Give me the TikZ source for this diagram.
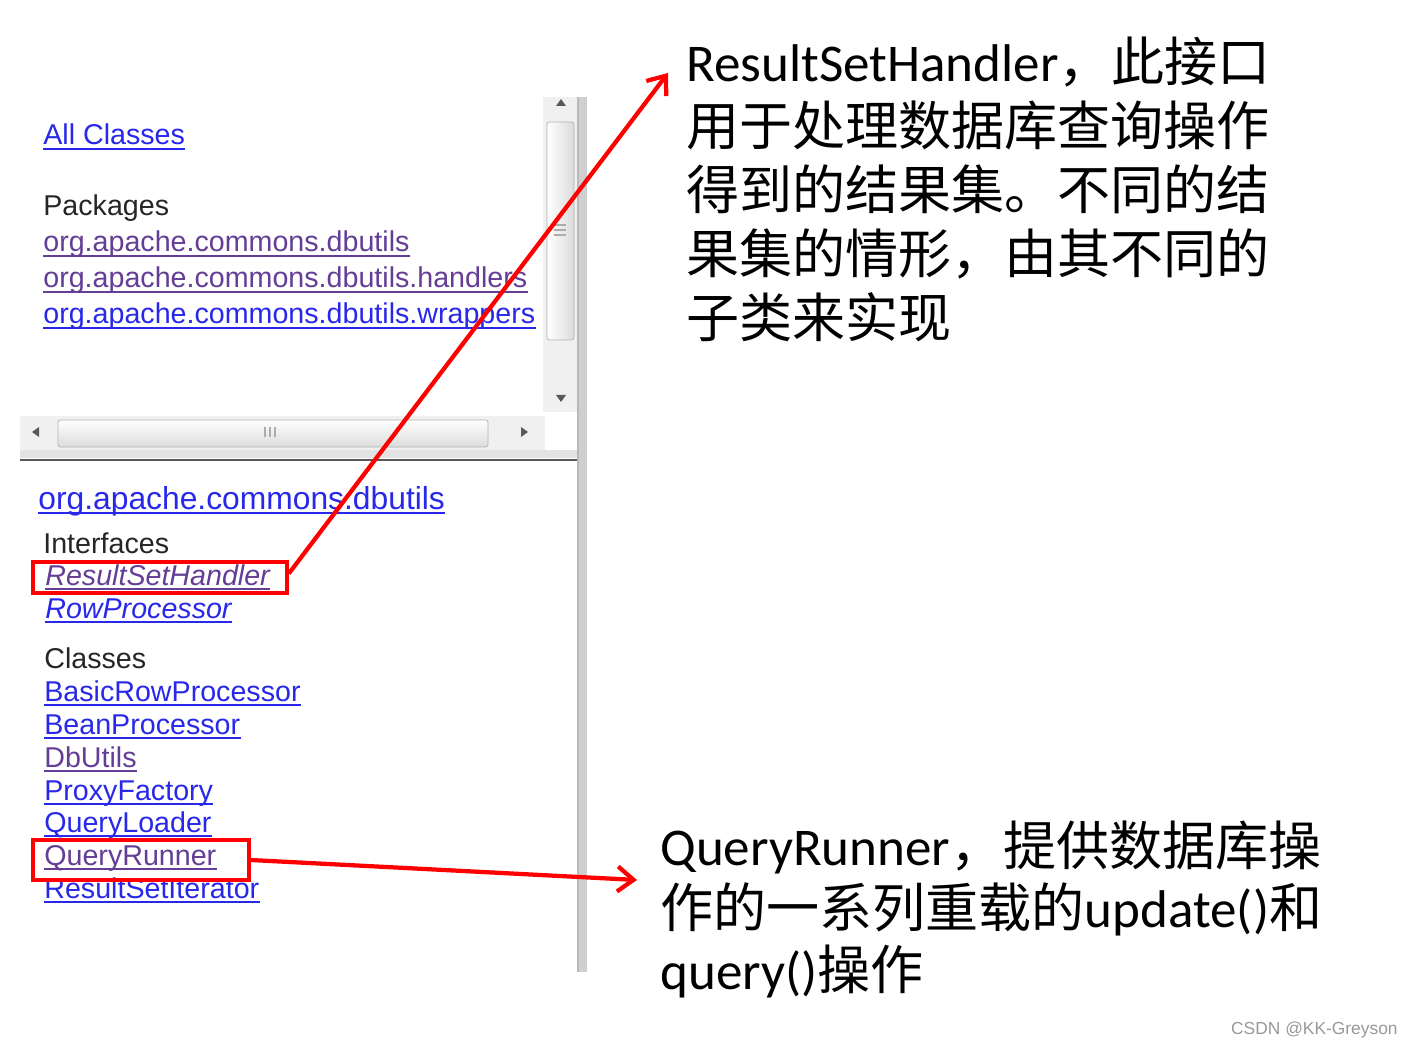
\documentclass[tikz,border=0pt]{standalone}
\usepackage{fontspec}
\setmainfont{Liberation Sans}
\newfontfamily\cjk{Noto Sans CJK SC}
\newfontfamily\calibri{Carlito}
\usetikzlibrary{positioning, fit, arrows.meta}

\definecolor{linkblue}{RGB}{40,40,235}
\definecolor{linkpurple}{RGB}{100,62,150}
\definecolor{sbtrack}{RGB}{240,240,240}
\newcommand{\linkfont}{\fontsize{16.3pt}{19pt}\selectfont}
\newcommand{\headfont}{\fontsize{18.1pt}{21pt}\selectfont}
\newcommand{\notefont}{\fontsize{30.2pt}{36pt}\selectfont}

\tikzset{
  linktext/.style={anchor=base west, inner sep=0pt, font=\linkfont, text=linkblue},
  visited/.style={linktext, text=linkpurple},
  plaintext/.style={anchor=base west, inner sep=0pt, font=\linkfont, text=black!85},
  notetext/.style={anchor=base west, inner sep=0pt, font=\notefont\cjk, text=black},
  markbox/.style={draw=red, line width=0.075cm, inner sep=0pt},
  markarrow/.style={draw=red, line width=0.085cm, -{Straight Barb[length=0.32cm, width=0.5cm]}}
}

\begin{document}
\begin{tikzpicture}[x=0.02cm, y=-0.02cm]
  \fill[white] (0,0) rectangle (1413,1047);
  \useasboundingbox (0,0) rectangle (1413,1047);

  % frame: scroll bars and divider
  \fill[sbtrack] (543,97) rectangle (577,412);
  \shade[left color=white, right color=gray!28, draw=gray!60, rounded corners=0.05cm] (547,122) rectangle (574,340);
  \foreach \gy in {225,230,235}
    \draw[gray!65, line width=0.03cm] (554,\gy) -- (566,\gy);
  \fill[gray!70!black] (561,99) -- (556,106) -- (566,106) -- cycle;
  \fill[gray!70!black] (561,402) -- (556,395) -- (566,395) -- cycle;
  \fill[sbtrack] (20,416) rectangle (545,450);
  \shade[top color=white, bottom color=gray!28, draw=gray!60, rounded corners=0.05cm] (58,420) rectangle (488,447);
  \foreach \gx in {265,270,275}
    \draw[gray!65, line width=0.03cm] (\gx,427) -- (\gx,437);
  \fill[gray!70!black] (32,432) -- (39,427) -- (39,437) -- cycle;
  \fill[gray!70!black] (528,432) -- (521,427) -- (521,437) -- cycle;
  \fill[gray!22] (20,450) rectangle (577,458);
  \draw[gray!70!black, line width=0.05cm] (20,460) -- (577,460);
  \fill[gray!38] (577,97) rectangle (587,972);
  \draw[gray!55, line width=0.03cm] (578,97) -- (578,972);

  % package frame
  \node[linktext] (allcls) at (43,145) {All Classes};
  \node[plaintext] (packages) at (43,216) {Packages};
  \node[visited] (pkgA) at (43,252) {org.apache.commons.dbutils};
  \node[visited] (pkgB) at (43,288) {org.apache.commons.dbutils.handlers};
  \node[linktext] (pkgC) at (43,324) {org.apache.commons.dbutils.wrappers};

  % class frame
  \node[linktext, font=\headfont] (heading) at (38,509) {org.apache.commons.dbutils};
  \node[plaintext] (interfaces) at (43,553) {Interfaces};
  \node[visited, font=\linkfont\itshape] (rsh) at (45,585) {ResultSetHandler};
  \node[linktext, font=\linkfont\itshape] (rowp) at (45,618) {RowProcessor};
  \node[plaintext] (classes) at (44,668) {Classes};
  \node[linktext] (basic) at (44,701) {BasicRowProcessor};
  \node[linktext] (bean) at (44,734) {BeanProcessor};
  \node[visited] (dbutils) at (44,767) {DbUtils};
  \node[linktext] (proxy) at (44,800) {ProxyFactory};
  \node[linktext] (qloader) at (44,832) {QueryLoader};
  \node[visited] (qrunner) at (44,865) {QueryRunner};
  \node[linktext] (rsiter) at (44,898) {ResultSetIterator};

  \foreach \n/\c in {allcls/linkblue, pkgA/linkpurple, pkgB/linkpurple, pkgC/linkblue,
      heading/linkblue, rsh/linkpurple, rowp/linkblue, basic/linkblue, bean/linkblue,
      dbutils/linkpurple, proxy/linkblue, qloader/linkblue, qrunner/linkpurple, rsiter/linkblue}
    \draw[\c, line width=0.04cm] ([yshift=-0.08cm]\n.base west) -- ([yshift=-0.08cm]\n.base east);

  % notes
  \node[notetext] (noteA1) at (686,82) {{\calibri ResultSetHandler}，此接口};
  \node[notetext] (noteA2) at (686,146) {用于处理数据库查询操作};
  \node[notetext] (noteA3) at (686,210) {得到的结果集。不同的结};
  \node[notetext] (noteA4) at (686,274) {果集的情形，由其不同的};
  \node[notetext] (noteA5) at (686,338) {子类来实现};

  \node[notetext] (noteB1) at (660,865) {{\calibri QueryRunner}，提供数据库操};
  \node[notetext] (noteB2) at (660,927) {作的一系列重载的{\calibri update()}和};
  \node[notetext] (noteB3) at (660,989) {{\calibri query()}操作};

  % marks and arrows
  \node[markbox, fit={(33,562) (287,593)}] (rshbox) {};
  \node[markbox, fit={(33,840) (249,880)}] (qrbox) {};
  \coordinate (tipA) at (668,73);
  \coordinate (tipB) at (637,880);
  \draw[markarrow] ([yshift=0.08cm]rshbox.east) -- (tipA);
  \draw[markarrow] (qrbox.east) -- (tipB);

  \node[anchor=base east, inner sep=0pt, font=\fontsize{9.9pt}{12pt}\selectfont, text=black!40] (credit) at (1398,1034) {CSDN @KK-Greyson};
\end{tikzpicture}
\end{document}
